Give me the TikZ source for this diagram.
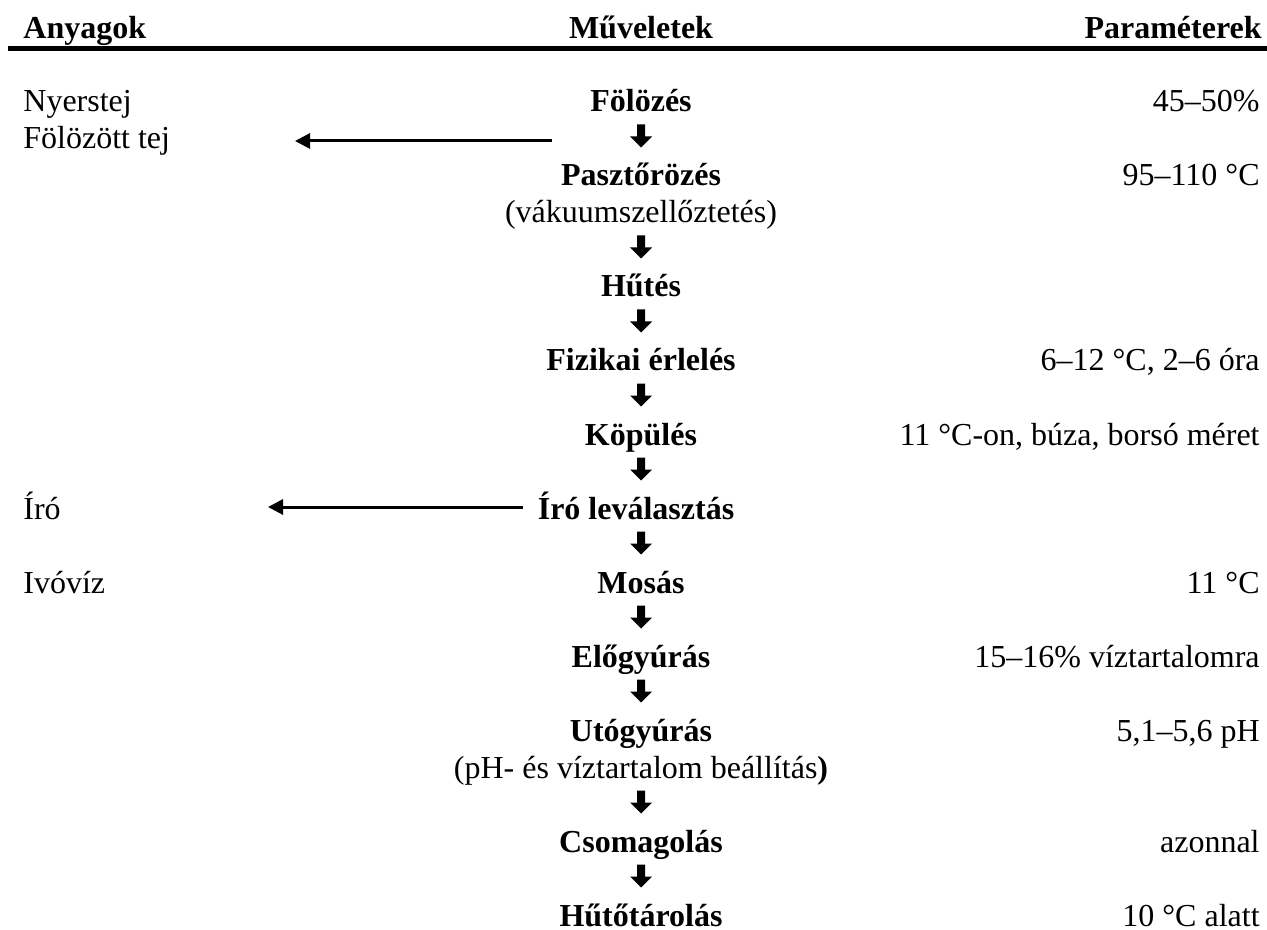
\documentclass[tikz,border=0pt]{standalone}
\usepackage{fontspec}
\setmainfont{Liberation Serif}
\usetikzlibrary{arrows.meta}
\begin{document}
\begin{tikzpicture}[x=0.5pt,y=-0.5pt,
  font=\fontsize{16}{19}\selectfont,
  lft/.style={anchor=base west, inner sep=0pt},
  rgt/.style={anchor=base east, inner sep=0pt},
  mid/.style={anchor=base, inner sep=0pt},
  stepnode/.style={mid, font=\fontsize{16}{19}\selectfont\bfseries},
  headnode/.style={font=\fontsize{16}{19}\selectfont\bfseries},
  rulestyle/.style={line width=2.5pt},
  sidearrow/.style={line width=1.5pt, -{Triangle[length=7.5pt,width=7.5pt]}},
  downarr/.pic={\fill (-4,-11.5) -- (4,-11.5) -- (4,0.5) -- (11,0.5) -- (0,11.5) -- (-11,0.5) -- (-4,0.5) -- cycle;}
]
\useasboundingbox (0,0) rectangle (1267,930);
% header
\node[lft, headnode] (hA) at (23,39) {Anyagok};
\node[mid, headnode] (hM) at (641,39) {Műveletek};
\node[rgt, headnode] (hP) at (1262,39) {Paraméterek};
\coordinate (r1) at (8,48.5);
\coordinate (r2) at (1267,48.5);
\draw[rulestyle] (r1) -- (r2);
% left column
\node[lft] (a1) at (23,112) {Nyerstej};
\node[lft] (a2) at (23,149) {Fölözött tej};
\node[lft] (a3) at (23,519) {Író};
\node[lft] (a4) at (23,593) {Ivóvíz};
% middle column
\node[stepnode] (s1) at (641,112) {Fölözés};
\node[stepnode] (s2) at (641,186) {Pasztőrözés};
\node[mid] (s2b) at (641,223) {(vákuumszellőztetés)};
\node[stepnode] (s3) at (641,297) {Hűtés};
\node[stepnode] (s4) at (641,371) {Fizikai érlelés};
\node[stepnode] (s5) at (641,445) {Köpülés};
\node[stepnode] (s6) at (636,519) {Író leválasztás};
\node[stepnode] (s7) at (641,593) {Mosás};
\node[stepnode] (s8) at (641,667) {Előgyúrás};
\node[stepnode] (s9) at (641,741) {Utógyúrás};
\node[mid] (s9b) at (641,778) {(pH- és víztartalom beállítás\textbf{)}};
\node[stepnode] (s10) at (641,852) {Csomagolás};
\node[stepnode] (s11) at (641,926) {Hűtőtárolás};
% right column
\node[rgt] (p1) at (1260,112) {45–50\%};
\node[rgt] (p2) at (1260,186) {95–110 °C};
\node[rgt] (p4) at (1260,371) {6–12 °C, 2–6 óra};
\node[rgt] (p5) at (1260,445) {11 °C-on, búza, borsó méret};
\node[rgt] (p7) at (1260,593) {11 °C};
\node[rgt] (p8) at (1260,667) {15–16\% víztartalomra};
\node[rgt] (p9) at (1260,741) {5,1–5,6 pH};
\node[rgt] (p10) at (1260,852) {azonnal};
\node[rgt] (p11) at (1260,926) {10 °C alatt};
% down arrows
\foreach \yy in {136,247,321,395,469,543,617,691,802,876}
  \pic at (641,\yy) {downarr};
% side arrows
\coordinate (b1s) at (552,141);
\coordinate (b1e) at (295,141);
\coordinate (b2s) at (523,507);
\coordinate (b2e) at (268,507);
\draw[sidearrow] (b1s) -- (b1e);
\draw[sidearrow] (b2s) -- (b2e);
\end{tikzpicture}
\end{document}
